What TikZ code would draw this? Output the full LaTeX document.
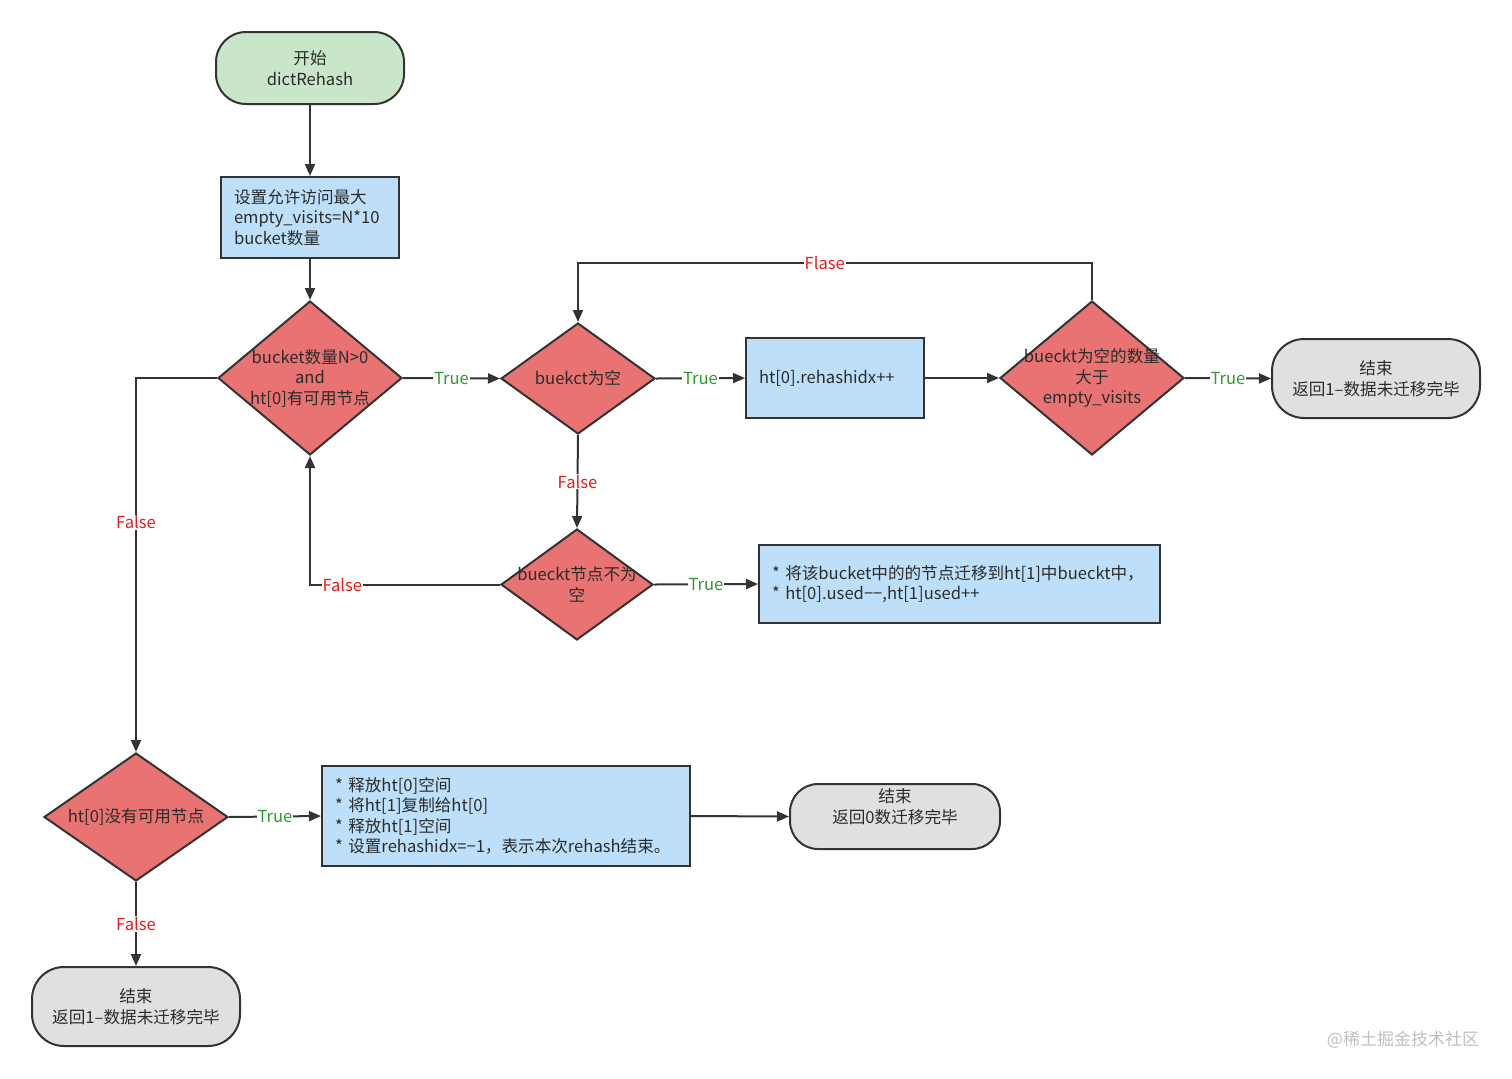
\documentclass[tikz,border=0pt]{standalone}
\usepackage{fontspec}
\setmainfont{Noto Sans CJK SC}
\usetikzlibrary{shapes.geometric,arrows.meta}
\definecolor{txt}{HTML}{2B2B2B}
\definecolor{bord}{HTML}{333333}
\definecolor{dfill}{HTML}{E87372}
\definecolor{bfill}{HTML}{BEDFF9}
\definecolor{gfill}{HTML}{C9E6CA}
\definecolor{efill}{HTML}{E0E0E0}
\definecolor{tgreen}{HTML}{2E9B2E}
\definecolor{fred}{HTML}{E41E1E}
\tikzset{
  base/.style={draw=bord, line width=1pt, text=txt, font=\fontsize{8.3}{10.25}\selectfont},
  dia/.style={base, diamond, fill=dfill, inner sep=0pt},
  boxn/.style={base, rectangle, fill=bfill, align=left, inner xsep=6.5pt},
  term/.style={base, rectangle, rounded corners=16pt, fill=efill, align=center},
  dtext/.style={text=txt, font=\fontsize{8.3}{10.25}\selectfont, align=center, inner sep=0pt},
  conn/.style={draw=bord, line width=1pt, -{Triangle[length=6pt,width=5pt]}},
  lt/.style={fill=white, inner sep=0.5pt, text=tgreen, font=\fontsize{8.3}{9}\selectfont},
  lf/.style={fill=white, inner sep=0.5pt, text=fred, font=\fontsize{8.3}{9}\selectfont},
}
\begin{document}
\begin{tikzpicture}[x=0.5pt, y=-0.5pt]
\useasboundingbox (0,0) rectangle (1512,1078);
% nodes
\node[term, fill=gfill, rounded corners=15pt, minimum width=94pt, minimum height=36pt] (start) at (310,68) {开始\\dictRehash};
\node[boxn, text width=76pt, minimum height=40.5pt] (b1) at (310,217.5) {设置允许访问最大\\empty\_visits=N*10\\bucket数量};
\node[dia, minimum width=92pt, minimum height=77pt] (d1) at (310,378) {};
\node[dtext] at (d1) {bucket数量N>0\\and\\ht[0]有可用节点};
\node[dia, minimum width=77pt, minimum height=55.5pt] (d2) at (578,378.5) {};
\node[dtext] at (d2) {buekct为空};
\node[boxn, text width=76pt, minimum height=40pt] (b2) at (835,378) {ht[0].rehashidx++};
\node[dia, minimum width=92pt, minimum height=77pt] (d3) at (1092,378) {};
\node[dtext] at (d3) {bueckt为空的数量\\大于\\empty\_visits};
\node[term, minimum width=104pt, minimum height=39.5pt] (e1) at (1376,378.5) {结束\\返回1–数据未迁移完毕};
\node[dia, minimum width=76pt, minimum height=55.5pt] (d4) at (577,584.5) {};
\node[dtext] at (d4) {bueckt节点不为\\空};
\node[boxn, text width=187.5pt, minimum height=39pt] (b4) at (959.5,584) {{*} 将该bucket中的的节点迁移到ht[1]中bueckt中，\\{*} ht[0].used−−,ht[1]used++};
\node[dia, minimum width=92pt, minimum height=64pt] (d5) at (136,817) {};
\node[dtext] at (d5) {ht[0]没有可用节点};
\node[boxn, text width=171pt, minimum height=50pt] (b3) at (506,816) {{*} 释放ht[0]空间\\{*} 将ht[1]复制给ht[0]\\{*} 释放ht[1]空间\\{*} 设置rehashidx=−1，表示本次rehash结束。};
\node[term, rounded corners=14pt, minimum width=105pt, minimum height=32.5pt] (e2) at (895,816.5) {};
\node[dtext] at ([yshift=5pt]e2.center) {结束\\返回0数迁移完毕};
\node[term, minimum width=104pt, minimum height=39.5pt] (e3) at (136,1006.5) {结束\\返回1–数据未迁移完毕};
\node[text=black!25, font=\fontsize{8.5}{10}\selectfont, inner sep=0pt] (wm) at (1403,1040) {@稀土掘金技术社区};
% connectors
\draw[conn] (start) -- (b1);
\draw[conn] (b1) -- (d1);
\draw[conn] (d1.east) -- node[lt]{True} (d2.west);
\draw[conn] (d2.east) -- node[lt]{True} (b2.west);
\draw[conn] (b2.east) -- (d3.west);
\draw[conn] (d3.east) -- node[lt]{True} (e1.west);
\coordinate (fc) at (1092,263);
\draw[conn] (d3.north) -- (fc) -| node[lf, pos=0.26]{Flase} (d2.north);
\draw[conn] (d2.south) -- node[lf]{False} (d4.north);
\draw[conn] (d4.west) -| node[lf, pos=0.415]{False} (d1.south);
\draw[conn] (d4.east) -- node[lt]{True} (b4.west);
\draw[conn] (d1.west) -| node[lf, pos=0.693]{False} (d5.north);
\draw[conn] (d5.east) -- node[lt]{True} (b3.west);
\draw[conn] (b3.east) -- (e2.west);
\draw[conn] (d5.south) -- node[lf]{False} (e3.north);
\end{tikzpicture}
\end{document}
